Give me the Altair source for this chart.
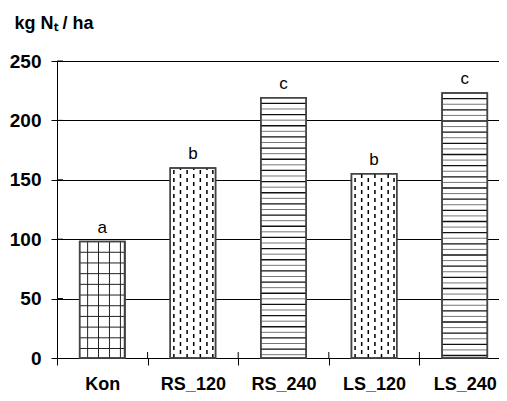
import altair as alt
import pandas as pd
import numpy as np

# ---- data ----
categories = ["Kon", "RS_120", "RS_240", "LS_120", "LS_240"]
values = [98, 160, 219, 155, 223]
letters = ["a", "b", "c", "b", "c"]
y_ticks = [0, 50, 100, 150, 200, 250]

# ---- style (fill patterns of the bars) ----
patterns = ["grid", "dash", "hline", "dash", "hline"]
BAR_L, BAR_R = 0.25, 0.75          # bar extent inside each category slot
GRID_V_OFFS = [0.088, 0.208, 0.329, 0.45, 0.493]
GRID_H_STEP = 9.0
DASH_OFFS = [0.04, 0.113, 0.186, 0.259, 0.332, 0.405, 0.47]
HLINE_STEP = 4.7

FONT = "Liberation Sans"
W, H = 442, 297
STEP = 90.6

bars = pd.DataFrame({
    "cat": categories,
    "x": [i + BAR_L for i in range(len(categories))],
    "x2": [i + BAR_R for i in range(len(categories))],
    "y": values,
    "y2": [0] * len(values),
})
text_df = pd.DataFrame({
    "x": [i + 0.5 for i in range(len(categories))],
    "y": values,
    "letter": letters,
})

hl_rows, vl_rows, dash_rows = [], [], []
for i, (v, p) in enumerate(zip(values, patterns)):
    x0, x1 = i + BAR_L, i + BAR_R
    if p == "hline":
        k = 1
        while v - k * HLINE_STEP > 0.5:
            hl_rows.append({"x": x0, "x2": x1, "y": v - k * HLINE_STEP,
                            "shade": "d" if k % 2 else "l"})
            k += 1
    elif p == "grid":
        k = 1
        while v - k * GRID_H_STEP > 0.5:
            hl_rows.append({"x": x0, "x2": x1, "y": v - k * GRID_H_STEP, "shade": "g"})
            k += 1
        for o in GRID_V_OFFS:
            vl_rows.append({"x": x0 + o, "y": 0, "y2": v})
    elif p == "dash":
        for j, o in enumerate(DASH_OFFS):
            dash_rows.append({"x": x0 + o, "y": 0, "y2": v, "par": j % 2})
hl_df = pd.DataFrame(hl_rows)
vl_df = pd.DataFrame(vl_rows)
dash_df = pd.DataFrame(dash_rows)

label_expr = "[" + ",".join("'%s'" % c for c in categories) + "][datum.value]"

x_axis = alt.Axis(values=list(range(len(categories))), labelExpr=label_expr,
                  labelOffset=STEP / 2, tickSize=7, grid=False, title=None,
                  labelFont=FONT, labelFontSize=18, labelFontWeight="bold",
                  labelColor="black", labelPadding=10, domainColor="black",
                  tickColor="black", labelFlush=False, labelOverlap=False,
                  labelBound=False, labelAlign="center")
y_axis = alt.Axis(values=y_ticks, grid=True, gridColor="black", gridWidth=1,
                  tickSize=6, tickColor="black", domainColor="black",
                  labelFont=FONT, labelFontSize=19, labelFontWeight="bold",
                  labelColor="black", labelPadding=10,
                  title="kg Nₜ / ha", titleAngle=0, titleX=-43, titleY=-33,
                  titleAlign="left", titleBaseline="alphabetic",
                  titleFont=FONT, titleFontSize=18, titleFontWeight="bold",
                  titleColor="black")

xs = alt.Scale(domain=[0, len(categories)], range=[0, STEP * len(categories)],
               nice=False, zero=False)
ys = alt.Scale(domain=[0, 250], nice=False)

def X(f="x"):
    return alt.X(f + ":Q", scale=xs, axis=x_axis)

def Y(f="y"):
    return alt.Y(f + ":Q", scale=ys, axis=y_axis)

base_bars = alt.Chart(bars).mark_bar(fill="white", stroke="#444", strokeWidth=1.5).encode(
    x=X(), x2="x2:Q", y=Y(), y2="y2:Q")

hl_dark = alt.Chart(hl_df).transform_filter("datum.shade == 'd'").mark_rule(
    color="#111", strokeWidth=1.3).encode(x=X(), x2="x2:Q", y=Y())
hl_light = alt.Chart(hl_df).transform_filter("datum.shade == 'l'").mark_rule(
    color="#777", strokeWidth=1).encode(x=X(), x2="x2:Q", y=Y())
hl_grid = alt.Chart(hl_df).transform_filter("datum.shade == 'g'").mark_rule(
    color="#222", strokeWidth=1).encode(x=X(), x2="x2:Q", y=Y())
vl_grid = alt.Chart(vl_df).mark_rule(color="#222", strokeWidth=1).encode(
    x=X(), y=Y(), y2="y2:Q")
dash0 = alt.Chart(dash_df).transform_filter("datum.par == 0").mark_rule(
    color="black", strokeWidth=1.5, strokeDash=[4, 4], strokeDashOffset=0).encode(
    x=X(), y=Y(), y2="y2:Q")
dash1 = alt.Chart(dash_df).transform_filter("datum.par == 1").mark_rule(
    color="black", strokeWidth=1.5, strokeDash=[4, 4], strokeDashOffset=4).encode(
    x=X(), y=Y(), y2="y2:Q")

outline = alt.Chart(bars).mark_bar(fill=None, fillOpacity=0, stroke="#444", strokeWidth=1.5).encode(
    x=X(), x2="x2:Q", y=Y(), y2="y2:Q")

labels = alt.Chart(text_df).mark_text(font=FONT, fontSize=17, color="black",
                                      baseline="alphabetic", dy=-9).encode(
    x=X(), y=Y(), text="letter:N")

tick_df_y = pd.DataFrame({"y": y_ticks[1:]})
inner_y = alt.Chart(tick_df_y).mark_rule(color="black").encode(
    y=Y(), x=alt.value(0), x2=alt.value(6))
tick_df_x = pd.DataFrame({"x": list(range(1, len(categories)))})
inner_x = alt.Chart(tick_df_x).mark_rule(color="black").encode(
    x=X(), y=alt.value(H - 6), y2=alt.value(H))

chart = alt.layer(base_bars, hl_grid, vl_grid, hl_light, hl_dark, dash0, dash1,
                  outline, labels, inner_y, inner_x).properties(
    width=W, height=H,
    autosize=alt.AutoSizeParams(type="none"),
    padding={"left": 49, "top": 53, "right": 0, "bottom": 35},
).configure_view(stroke=None).configure(background="white")

chart.save("out.html", embed_options={"renderer": "svg", "actions": False})
